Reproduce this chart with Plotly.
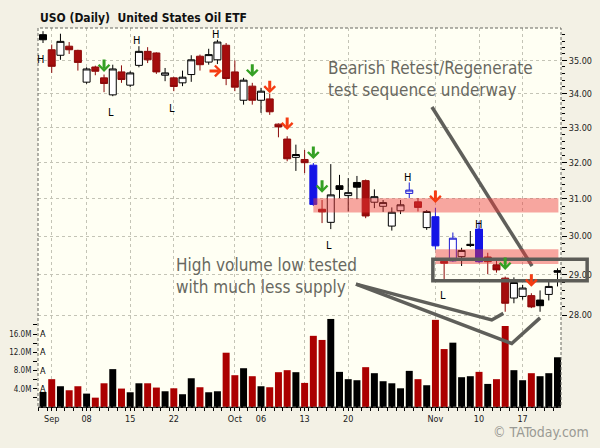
import math

import plotly.graph_objects as go

# =============================================================================
# USO daily, 29 Aug - 21 Nov 2014
# =============================================================================
DATES = [
    "2014-08-29",
    "2014-09-02", "2014-09-03", "2014-09-04", "2014-09-05",
    "2014-09-08", "2014-09-09", "2014-09-10", "2014-09-11", "2014-09-12",
    "2014-09-15", "2014-09-16", "2014-09-17", "2014-09-18", "2014-09-19",
    "2014-09-22", "2014-09-23", "2014-09-24", "2014-09-25", "2014-09-26",
    "2014-09-29", "2014-09-30",
    "2014-10-01", "2014-10-02", "2014-10-03",
    "2014-10-06", "2014-10-07", "2014-10-08", "2014-10-09", "2014-10-10",
    "2014-10-13", "2014-10-14", "2014-10-15", "2014-10-16", "2014-10-17",
    "2014-10-20", "2014-10-21", "2014-10-22", "2014-10-23", "2014-10-24",
    "2014-10-27", "2014-10-28", "2014-10-29", "2014-10-30", "2014-10-31",
    "2014-11-03", "2014-11-04", "2014-11-05", "2014-11-06", "2014-11-07",
    "2014-11-10", "2014-11-11", "2014-11-12", "2014-11-13", "2014-11-14",
    "2014-11-17", "2014-11-18", "2014-11-19", "2014-11-20", "2014-11-21",
]

OPEN = [
    35.80, 35.33, 35.16, 35.44, 35.31, 34.34, 34.80, 34.47, 33.96, 34.65,
    34.25, 34.85, 35.28, 35.23, 34.55, 34.47, 34.32, 34.57, 35.13, 34.95,
    35.02, 35.47, 34.65, 33.80, 34.22, 33.80, 33.84, 33.10, 32.67, 32.15,
    32.09, 31.93, 30.72, 30.37, 31.36, 31.09, 31.45, 31.50, 30.91, 30.80,
    30.27, 30.68, 31.15, 30.92, 30.23, 30.52, 29.35, 29.36, 29.47, 29.79,
    30.19, 29.46, 29.26, 28.92, 28.42, 28.46, 28.48, 28.37, 28.51, 29.11,
]
HIGH = [
    35.91, 35.49, 35.83, 35.57, 35.33, 34.79, 34.84, 34.57, 34.87, 34.85,
    34.67, 35.44, 35.41, 35.25, 34.77, 34.50, 34.69, 35.16, 35.18, 35.36,
    35.64, 35.54, 35.00, 34.47, 34.32, 34.17, 34.00, 33.12, 32.75, 32.51,
    32.36, 31.99, 30.97, 31.96, 31.66, 31.57, 31.63, 31.53, 31.26, 30.97,
    30.77, 30.97, 31.45, 31.02, 30.70, 30.76, 29.39, 30.10, 29.70, 30.14,
    30.39, 29.57, 29.40, 28.96, 28.94, 28.75, 28.54, 28.61, 28.83, 29.17,
]
LOW = [
    35.54, 34.62, 35.02, 35.20, 34.69, 34.29, 34.55, 34.04, 33.92, 34.32,
    34.19, 34.79, 34.92, 34.59, 34.37, 34.07, 34.22, 34.35, 34.69, 34.87,
    34.89, 34.25, 34.07, 33.67, 33.67, 33.43, 33.37, 32.72, 32.04, 31.77,
    31.71, 30.81, 30.35, 30.19, 31.02, 30.66, 30.99, 30.48, 30.75, 30.65,
    30.15, 30.59, 31.02, 30.66, 30.17, 29.65, 28.87, 29.34, 29.23, 29.72,
    29.31, 29.02, 29.06, 28.08, 28.29, 28.38, 28.17, 28.08, 28.36, 28.71,
]
CLOSE = [
    35.64, 34.82, 35.59, 35.33, 34.94, 34.74, 34.67, 34.30, 34.74, 34.42,
    34.62, 35.28, 35.02, 34.65, 34.62, 34.21, 34.49, 35.02, 34.87, 35.18,
    35.57, 34.45, 34.19, 34.40, 33.80, 34.07, 33.46, 33.02, 32.11, 32.23,
    32.00, 30.85, 30.65, 31.11, 31.26, 31.17, 31.32, 30.54, 31.06, 30.90,
    30.64, 30.84, 31.24, 30.77, 30.66, 29.75, 29.30, 29.95, 29.63, 29.76,
    29.34, 29.34, 29.13, 28.29, 28.81, 28.67, 28.20, 28.23, 28.71, 29.07,
]
# candle look: red / black / hollow / blue / bluehollow
STYLE = [
    "black", "red", "hollow", "red", "red", "hollow", "red", "red", "hollow", "red",
    "hollow", "hollow", "red", "red", "hollow", "red", "hollow", "hollow", "red", "hollow",
    "hollow", "red", "red", "hollow", "red", "hollow", "red", "red", "red", "hollow",
    "red", "blue", "red", "hollow", "black", "hollow", "black", "red", "hollow", "hollow",
    "hollow", "hollow", "bluehollow", "red", "hollow", "blue", "red", "bluehollow", "hollow", "black",
    "blue", "red", "red", "red", "hollow", "hollow", "red", "black", "hollow", "black",
]

# объём, млн акций; 1 = день снижения (красный столбик)
VOLUME_M = [
    3.30, 6.10, 4.55, 3.67, 4.55, 2.94, 2.05, 5.20, 8.30, 4.04,
    3.23, 5.20, 5.20, 4.26, 3.45, 4.10, 2.80, 6.30, 4.33, 3.23,
    3.45, 11.9, 6.97, 8.50, 6.75, 4.55, 4.33, 7.63, 8.07, 7.63,
    5.28, 15.6, 14.7, 19.3, 7.70, 6.10, 5.87, 8.73, 7.41, 5.65,
    5.20, 4.10, 7.92, 6.10, 4.77, 19.1, 12.7, 14.1, 6.53, 6.75,
    7.70, 5.06, 6.10, 17.75, 8.07, 5.87, 7.41, 6.75, 7.41, 10.9,
]
VOLUME_DOWN = [
    0, 1, 0, 1, 1, 0, 1, 1, 0, 1,
    0, 0, 1, 1, 0, 1, 0, 0, 1, 0,
    0, 1, 1, 0, 1, 0, 1, 1, 1, 0,
    1, 1, 1, 0, 0, 0, 0, 1, 0, 0,
    0, 0, 0, 1, 0, 1, 1, 0, 0, 0,
    1, 0, 1, 1, 0, 0, 1, 0, 0, 0,
]

TICK_POS = [1, 5, 10, 15, 22, 25, 30, 35, 45, 50, 55]
TICK_TEXT = ["Sep", "08", "15", "22", "Oct", "06", "13", "20", "Nov", "10", "17"]
PRICE_TICKS = [28, 29, 30, 31, 32, 33, 34, 35]
VOL_TICKS_M = [2, 4, 6, 8, 10, 12, 14, 16, 18]

# сигнальные стрелки: бар, цена острия, тип
ARROW_BAR = [7, 24, 26, 28, 31, 32, 45, 53, 56]
ARROW_TIP = [34.65, 34.50, 34.01, 32.93, 32.10, 31.17, 30.89, 29.13, 28.70]
ARROW_KIND = ["buy", "buy", "sell", "sell", "buy", "buy", "sell", "buy", "sell"]

# метки H / L
HL_TEXT = ["H", "L", "H", "L", "H", "L", "H", "H", "L"]
HL_BAR = [-0.23, 7.8, 10.75, 14.83, 19.8, 32.83, 41.82, 49.92, 45.9]
HL_PRICE = [35.03, 33.45, 35.61, 33.56, 35.81, 29.75, 31.58, 30.32, 28.48]

# зоны сопротивления
ZONE_START = [31.0, 45.0]
ZONE_LOW = [30.63, 29.28]
ZONE_HIGH = [31.02, 29.66]

# серая рамка вокруг уровня 29
BOX_LOW = 28.855
BOX_HIGH = 29.40

# линии-указатели от подписей (бар, цена)
POINTER_BARS = [[44.6, 56.08], [35.89, 51.46, 52.79], [35.89, 53.75, 57.0]]
POINTER_PRICES = [[33.60, 29.23], [28.77, 27.88, 28.04], [28.77, 27.31, 27.93]]

STYLES = {
    "red": ("#a50d0d", "#8c0a0a"),
    "black": ("#000000", "#000000"),
    "hollow": ("#ffffff", "#000000"),
    "blue": ("#1414e6", "#1414e6"),
    "bluehollow": ("#ffffff", "#1a1ad2"),
}

GRID = "#c4c4b6"
NOTE = "#68685f"
FONT = "DejaVu Sans Condensed, DejaVu Sans, sans-serif"


def lg(p):
    return math.log10(p)


x_idx = list(range(len(DATES)))

fig = go.Figure()

# --- объём (левая ось) ---
fig.add_trace(
    go.Bar(
        x=x_idx,
        y=[v * 1e6 for v in VOLUME_M],
        width=0.8,
        marker=dict(color=["#ab0000" if d else "#000000" for d in VOLUME_DOWN], line=dict(width=0)),
        yaxis="y",
        hoverinfo="skip",
        showlegend=False,
    )
)

# --- свечи (правая ось, лог) ---
for style, (fill, line) in STYLES.items():
    ids = [i for i, s in enumerate(STYLE) if s == style]
    look = dict(fillcolor=fill, line=dict(color=line, width=1))
    fig.add_trace(
        go.Candlestick(
            x=ids,
            open=[OPEN[i] for i in ids],
            high=[HIGH[i] for i in ids],
            low=[LOW[i] for i in ids],
            close=[CLOSE[i] for i in ids],
            text=[DATES[i] for i in ids],
            increasing=look,
            decreasing=look,
            whiskerwidth=0,
            yaxis="y2",
            showlegend=False,
        )
    )

# --- указатели ---
for bars, prices in zip(POINTER_BARS, POINTER_PRICES):
    fig.add_trace(
        go.Scatter(
            x=bars,
            y=prices,
            mode="lines",
            line=dict(color="#5f5f5a", width=3.5),
            yaxis="y2",
            hoverinfo="skip",
            showlegend=False,
        )
    )

# фигуры на лог-оси берут значения цены как есть
shapes = []
for x0, lo, hi in zip(ZONE_START, ZONE_LOW, ZONE_HIGH):
    shapes.append(dict(
        type="rect", xref="x", yref="y2", x0=x0, x1=59.1, y0=lo, y1=hi,
        fillcolor="#ee3a3a", opacity=0.45, line=dict(width=0), layer="above",
    ))

shapes.append(dict(
    type="rect", xref="paper", yref="y2", x0=0.755, x1=1.05, y0=BOX_LOW, y1=BOX_HIGH,
    line=dict(color="#5c5c57", width=3.5), fillcolor="rgba(0,0,0,0)", layer="above",
))

# пунктирная рамка графика
shapes.append(dict(
    type="rect", xref="paper", yref="paper", x0=0, x1=1, y0=0, y1=1,
    line=dict(color="#666660", width=1, dash="3px,2px"), layer="above",
))

annotations = []
for bar, tip, kind in zip(ARROW_BAR, ARROW_TIP, ARROW_KIND):
    annotations.append(dict(
        x=bar, y=lg(tip), xref="x", yref="y2", ax=0, ay=-14, text="",
        showarrow=True, arrowhead=4, arrowsize=0.7, arrowwidth=3,
        arrowcolor="#35a024" if kind == "buy" else "#f53c12",
    ))
# горизонтальная стрелка
annotations.append(dict(
    x=20.53, y=lg(34.68), xref="x", yref="y2", ax=-14, ay=0, text="",
    showarrow=True, arrowhead=4, arrowsize=0.7, arrowwidth=3, arrowcolor="#f53c12",
))

for t, bx, pr in zip(HL_TEXT, HL_BAR, HL_PRICE):
    annotations.append(dict(
        x=bx, y=lg(pr), xref="x", yref="y2", text=t, showarrow=False,
        font=dict(family=FONT, size=11, color="#000000"),
    ))

for v in VOL_TICKS_M:
    if v % 4 == 0:
        annotations.append(dict(
            x=0, y=v * 1e6, xref="paper", yref="y", xanchor="left", text="A",
            showarrow=False, font=dict(family=FONT, size=9, color="#000000"),
        ))

annotations += [
    dict(
        x=0, y=1.027, xref="paper", yref="paper", xanchor="left", yanchor="middle",
        text="USO (Daily)\u00a0 United States Oil ETF", showarrow=False,
        font=dict(family=FONT, size=12, color="#111111", weight="bold"),
    ),
    dict(
        x=0.5507, y=0.8658, xref="paper", yref="paper", xanchor="left", yanchor="middle",
        align="left", text="Bearish Retest/Regenerate<br>test sequence underway",
        showarrow=False, font=dict(family=FONT, size=17, color=NOTE),
    ),
    dict(
        x=0.26, y=0.3451, xref="paper", yref="paper", xanchor="left", yanchor="middle",
        align="left", text="High volume low tested<br>with much less supply",
        showarrow=False, font=dict(family=FONT, size=17, color=NOTE),
    ),
    dict(
        x=1.0568, y=-0.0652, xref="paper", yref="paper", xanchor="right", yanchor="middle",
        text="\u00a9 TAToday.com", showarrow=False,
        font=dict(family=FONT, size=14, color="#9a9a94"),
    ),
]

minor_prices = [round(28 + 0.2 * k, 1) for k in range(1, 40) if k % 5]

fig.update_layout(
    width=600,
    height=448,
    margin=dict(l=38, r=39, t=28, b=41),
    paper_bgcolor="#f3f1e5",
    plot_bgcolor="#fffff3",
    boxgap=0.2,
    boxgroupgap=0,
    hovermode=False,
    showlegend=False,
    font=dict(family=FONT, size=9, color="#222222"),
    xaxis=dict(
        range=[-0.573, 59.40],
        tickmode="array",
        tickvals=TICK_POS,
        ticktext=TICK_TEXT,
        showgrid=True,
        gridcolor=GRID,
        griddash="3px,3px",
        zeroline=False,
        showline=True,
        linecolor="#000000",
        ticks="outside",
        ticklen=3,
        tickcolor="#000000",
        minor=dict(dtick=1, tick0=0.5, ticks="outside", ticklen=3, tickcolor="#000000", showgrid=False),
        rangeslider=dict(visible=False),
        tickfont=dict(family=FONT, size=9, color="#222222"),
        automargin=False,
    ),
    yaxis=dict(
        range=[0, 83.07e6],
        tickmode="array",
        tickvals=[v * 1e6 for v in VOL_TICKS_M],
        ticktext=[f"{v:.1f}M" if v % 4 == 0 else "" for v in VOL_TICKS_M],
        showgrid=False,
        zeroline=False,
        ticks="outside",
        ticklen=4,
        tickcolor="#000000",
        tickfont=dict(family=FONT, size=8, color="#222222"),
        automargin=False,
    ),
    yaxis2=dict(
        overlaying="y",
        side="right",
        type="log",
        range=[lg(25.831), lg(36.01)],
        tickmode="array",
        tickvals=PRICE_TICKS,
        ticktext=[f"{p:.2f}" for p in PRICE_TICKS],
        showgrid=True,
        gridcolor=GRID,
        griddash="3px,3px",
        zeroline=False,
        ticks="outside",
        ticklen=5,
        tickcolor="#000000",
        minor=dict(tickvals=minor_prices, ticks="outside", ticklen=3, tickcolor="#000000", showgrid=False),
        tickfont=dict(family=FONT, size=9, color="#222222"),
        automargin=False,
    ),
    shapes=shapes,
    annotations=annotations,
)

# страница без отступа браузера, чтобы график занял всё окно 600x448
fig.write_html(
    "out.html",
    config={"displayModeBar": False},
    post_script="document.body.style.margin='0px';",
)
